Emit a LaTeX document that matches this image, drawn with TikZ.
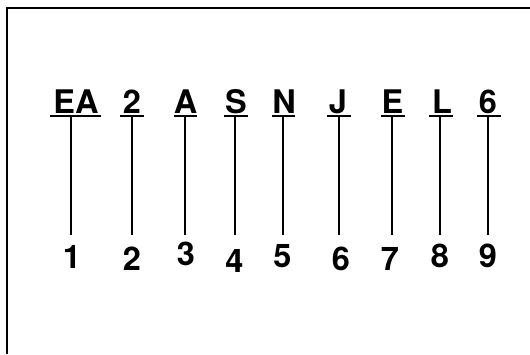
\documentclass[tikz,border=0pt]{standalone}
\usepackage{fontspec}
\setmainfont{TeX Gyre Heros}
\begin{document}
\begin{tikzpicture}[x=1pt,y=-1pt,
  lbl/.style={font=\fontsize{32.5}{32.5}\selectfont\bfseries, inner sep=0pt, anchor=base},
  uline/.style={line width=1.8pt},
  stem/.style={line width=1.8pt},
  frame/.style={line width=1.6pt}]
\useasboundingbox (0,0) rectangle (530,354);
% frame (top and left edges)
\coordinate (fa) at (7,354);
\coordinate (fb) at (7,8);
\coordinate (fc) at (530,8);
\draw[frame] (fa) -- (fb) -- (fc);
% top labels
\foreach \n/\t/\x/\sx/\ul/\ur in {1/EA/76/71/50/101, 2/2/132/132/120/144, 3/A/185.5/185/174/197, 4/S/236/235/224/248, 5/N/284/283/272/295, 6/J/338/339/327/351, 7/E/392.5/392/381/405, 8/L/442/440/429/453, 9/6/488/488/477/501}{
  \node[lbl] (t\n) at (\x,113) {\t};
  \coordinate (ul\n) at (\ul,116);
  \coordinate (ur\n) at (\ur,116);
  \coordinate (s\n) at (\sx,116);
  \coordinate (e\n) at (\sx,235);
  \draw[uline] (ul\n) -- (ur\n);
  \draw[stem] (s\n) -- (e\n);
}
% bottom numbers
\foreach \n/\x/\y in {1/72/268, 2/132/270, 3/186/265, 4/234.5/272, 5/282.5/267, 6/341/270, 7/390/270, 8/440/267, 9/488/267}{
  \node[lbl] (b\n) at (\x,\y) {\n};
}
\end{tikzpicture}
\end{document}
